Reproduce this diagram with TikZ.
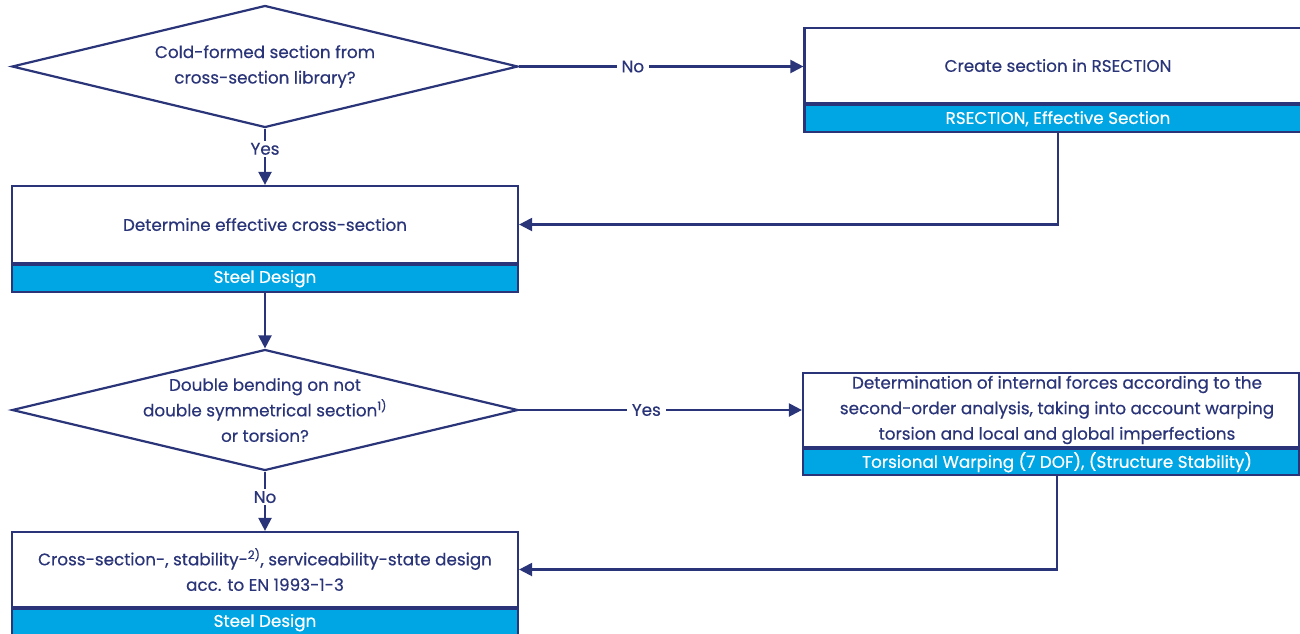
\documentclass[tikz,border=0pt]{standalone}
\usepackage{fontspec}
\setmainfont{Poppins}[FakeBold=0.5]
\usetikzlibrary{shapes.geometric,arrows.meta}
\definecolor{navy}{RGB}{42,52,120}
\definecolor{barblue}{RGB}{0,166,227}
\begin{document}
\begin{tikzpicture}[x=1pt,y=-1pt,
  txt/.style={font=\fontsize{16.8}{25.5}\selectfont, text=navy, align=center, inner sep=0pt},
  bartxt/.style={font=\fontsize{16.8}{18}\selectfont, text=white, inner sep=0pt},
  dec/.style={diamond, draw=navy, line width=2.2pt, minimum width=506pt, minimum height=122pt, inner sep=0pt},
  mainbox/.style={rectangle, draw=navy, line width=2.2pt, fill=white, inner sep=0pt},
  barbox/.style={rectangle, draw=navy, line width=2.2pt, fill=barblue, inner sep=0pt},
  conn/.style={draw=navy, line width=2.2pt, -{Triangle[length=13pt,width=13pt]}},
  lbl/.style={font=\fontsize{16.8}{18}\selectfont, text=navy, fill=white, inner xsep=5pt, inner ysep=2pt}
]
\useasboundingbox (0,0) rectangle (1300,633);
% decision 1
\node[dec] (d1) at (265,66.5) {};
\node[txt] (d1t) at (d1) {Cold-formed section from\\cross-section library?};
% box 1
\node[mainbox, minimum width=507pt, minimum height=75pt] (b1) at (1058,65.5) {};
\node[barbox, minimum width=507pt, minimum height=27pt, anchor=north] (b1bar) at (b1.south) {};
\node[txt] (b1t) at (b1) {Create section in RSECTION};
\node[bartxt] (b1bt) at (b1bar) {RSECTION, Effective Section};
% box 2
\node[mainbox, minimum width=506pt, minimum height=77pt] (b2) at (265,224.5) {};
\node[barbox, minimum width=506pt, minimum height=27pt, anchor=north] (b2bar) at (b2.south) {};
\node[txt] (b2t) at (b2) {Determine effective cross-section};
\node[bartxt] (b2bt) at (b2bar) {Steel Design};
% decision 2
\node[dec, minimum height=121pt] (d2) at (265,410) {};
\node[txt] (d2t) at (d2) {Double bending on not\\double symmetrical section\textsuperscript{1)}\\or torsion?};
% box 3
\node[mainbox, minimum width=496pt, minimum height=74pt] (b3) at (1051,410) {};
\node[barbox, minimum width=496pt, minimum height=26pt, anchor=north] (b3bar) at (b3.south) {};
\coordinate (c3) at (1057,410);
\node[txt] (b3t) at (c3) {Determination of internal forces according to the\\second-order analysis, taking into account warping\\torsion and local and global imperfections};
\node[bartxt] (b3bt) at (b3bar -| c3) {Torsional Warping (7 DOF), (Structure Stability)};
% box 4
\node[mainbox, minimum width=506pt, minimum height=75pt] (b4) at (265,569.5) {};
\node[barbox, minimum width=506pt, minimum height=27pt, anchor=north] (b4bar) at (b4.south) {};
\node[txt] (b4t) at (b4) {Cross-section-, stability-\textsuperscript{2)}, serviceability-state design\\acc. to EN 1993-1-3};
\node[bartxt] (b4bt) at (b4bar) {Steel Design};
% connectors
\draw[conn] (d1.east) -- node[lbl, pos=0.4] {No} (d1.east -| b1.west);
\draw[conn] (d1.south) -- node[lbl, pos=0.36] {Yes} (b2.north);
\draw[conn] (b1bar.south) |- (b2.east);
\draw[conn] (b2bar.south) -- (d2.north);
\draw[conn] (d2.east) -- node[lbl, pos=0.45] {Yes} (d2.east -| b3.west);
\draw[conn] (d2.south) -- node[lbl, pos=0.43] {No} (b4.north);
\draw[conn] (b3bar.south -| c3) |- (b4.east);
\end{tikzpicture}
\end{document}
